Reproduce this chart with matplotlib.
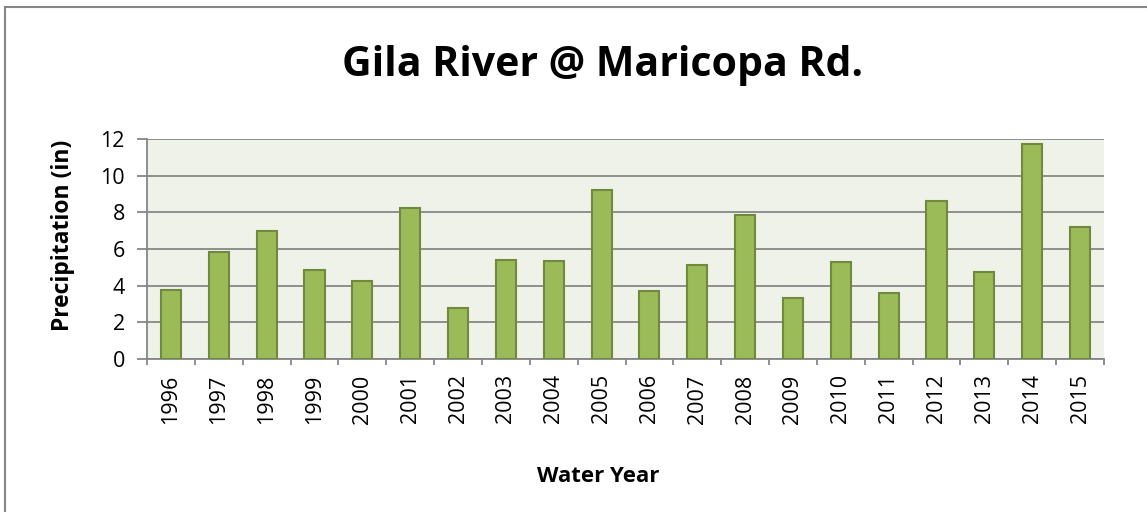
import matplotlib
matplotlib.use("Agg")
import matplotlib.pyplot as plt
from matplotlib.lines import Line2D
import numpy as np

years = ["1996", "1997", "1998", "1999", "2000", "2001", "2002", "2003", "2004", "2005",
         "2006", "2007", "2008", "2009", "2010", "2011", "2012", "2013", "2014", "2015"]
precip = [3.75, 5.82, 6.97, 4.87, 4.27, 8.25, 2.78, 5.38, 5.35, 9.20,
          3.73, 5.11, 7.87, 3.31, 5.29, 3.62, 8.62, 4.75, 11.75, 7.18]
yticks = [0, 2, 4, 6, 8, 10, 12]

plt.rcParams['font.family'] = ['Open Sans', 'DejaVu Sans']

W, H = 1147, 512
fig = plt.figure(figsize=(W / 100, H / 100), dpi=100)
ax = fig.add_axes([147 / W, 1 - 359 / H, (1104 - 147) / W, (359 - 139) / H])
ax.set_facecolor("#EEF2E8")

x = np.arange(len(years))
ax.bar(x, precip, width=0.42, color="#9BBB59", edgecolor="#71893F", linewidth=1.5, zorder=3)

ax.set_xlim(-0.5, len(years) - 0.5)
ax.set_ylim(0, 12)
ax.set_yticks(yticks)
ax.set_yticklabels([str(v) for v in yticks], fontsize=15.5)
ax.yaxis.grid(True, color="#868686", linewidth=1.3, zorder=1)
ax.set_axisbelow(True)

ax.set_xticks(x)
ax.set_xticklabels(years, rotation=90, fontsize=15.5)
ax.tick_params(axis="x", which="major", length=0, pad=11)
ax.set_xticks(np.arange(len(years) + 1) - 0.5, minor=True)
ax.tick_params(axis="x", which="minor", length=4.5, color="#868686", width=1.3, direction="out")
ax.tick_params(axis="y", length=7, color="#868686", width=1.3, direction="out", pad=9)

for s in ["top", "right"]:
    ax.spines[s].set_visible(False)
for s in ["left", "bottom"]:
    ax.spines[s].set_color("#868686")
    ax.spines[s].set_linewidth(1.3)

fig.text(63 / W, 1 - 235 / H, "Precipitation (in)", fontsize=16.5, fontweight="bold",
         rotation=90, ha="center", va="center")
fig.text(598 / W, 1 - 477 / H, "Water Year", fontsize=16, fontweight="bold",
         ha="center", va="center")
fig.text(603 / W, 1 - 66 / H, "Gila River @ Maricopa Rd.", fontsize=29.5, fontweight="bold",
         ha="center", va="center")

# outer chart border
fig.add_artist(Line2D([4.5 / W, 4.5 / W], [0, 1 - 7 / H], color="#868686", linewidth=1.5))
fig.add_artist(Line2D([4.5 / W, 1], [1 - 7 / H, 1 - 7 / H], color="#868686", linewidth=1.5))

fig.savefig("out.png", dpi=100)
